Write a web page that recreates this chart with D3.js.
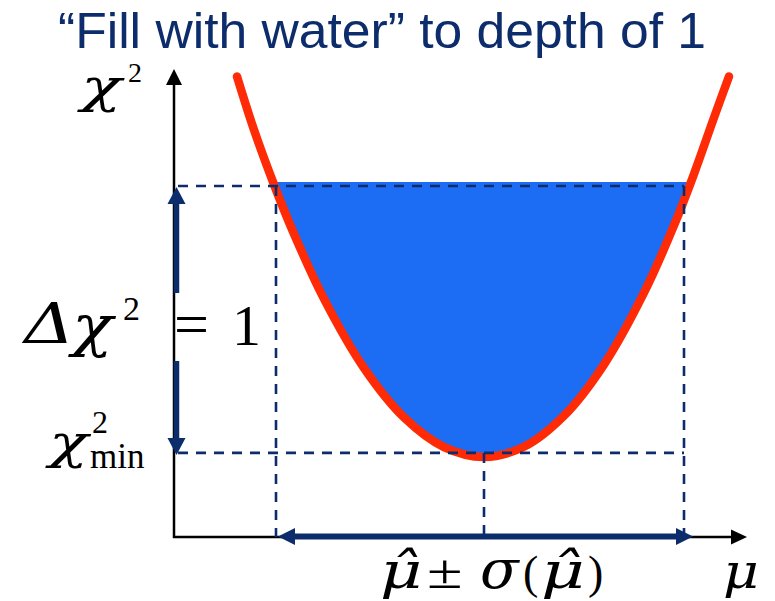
<!DOCTYPE html>
<html>
<head>
<meta charset="utf-8">
<script src="https://cdn.jsdelivr.net/npm/d3@7"></script>
<style>
  html, body { margin: 0; padding: 0; background: #ffffff; }
  svg { display: block; }
</style>
</head>
<body>
<svg id="chart" width="775" height="601"></svg>
<script>
// χ² scan around the best fit: μ in units of σ(μ̂) measured from μ̂,
// χ² measured from χ²min
const muValues   = [-1.235, -1.15, -1.05, -0.95, -0.8, -0.6, -0.4, -0.2, 0, 0.2, 0.4, 0.6, 0.8, 0.95, 1.05, 1.15, 1.225];
const chi2Values = [1.41, 1.21, 1.005, 0.82, 0.577, 0.318, 0.133, 0.022, -0.015, 0.023, 0.139, 0.331, 0.60, 0.852, 1.045, 1.256, 1.41];

// interval markers: μ̂ − σ, μ̂, μ̂ + σ
const muMarks   = [-1.04, 0, 1.0];
const deltaChi2 = 1;        // depth of the "water"
const waterLevel = 1.015;   // surface of the filled region
const muAxis   = [-1.55, 1.315];
const chi2Axis = [-0.315, 1.438];

const title = "\u201CFill with water\u201D to depth of 1";

const NAVY = "#0c2c6c";
const RED  = "#ff2b06";
const BLUE = "#1c6cf4";
const SERIF = "'Liberation Serif', 'Times New Roman', serif";
const GREEK = "'DejaVu Serif', serif";

const curve = muValues.map((m, i) => ({ mu: m, chi2: chi2Values[i] }));

const svg = d3.select("#chart");

const x = d3.scaleLinear().domain(muAxis).range([174, 747]);
const y = d3.scaleLinear().domain(chi2Axis).range([537, 69]);

const defs = svg.append("defs");
defs.append("clipPath").attr("id", "water-clip")
  .append("rect")
  .attr("x", 0).attr("y", y(waterLevel))
  .attr("width", 775).attr("height", y(chi2Axis[0]) - y(waterLevel));

// filled region below the Δχ² = 1 level
const area = d3.area()
  .x(d => x(d.mu))
  .y0(y(waterLevel))
  .y1(d => y(d.chi2))
  .curve(d3.curveCatmullRom.alpha(0.5));

svg.append("path")
  .datum(curve)
  .attr("d", area)
  .attr("fill", BLUE)
  .attr("clip-path", "url(#water-clip)");

// χ² curve
const line = d3.line()
  .x(d => x(d.mu))
  .y(d => y(d.chi2))
  .curve(d3.curveCatmullRom.alpha(0.5));

svg.append("path")
  .datum(curve)
  .attr("d", line)
  .attr("fill", "none")
  .attr("stroke", RED)
  .attr("stroke-width", 8.5)
  .attr("stroke-linecap", "round");

// coordinate axes with arrow tips
const axisG = svg.append("g").attr("stroke", "#000").attr("fill", "#000");
const x0 = x(muAxis[0]), yb = y(chi2Axis[0]);
const yTip = y(chi2Axis[1]), xTip = x(muAxis[1]);
axisG.append("line")
  .attr("x1", x0).attr("y1", yb + 1)
  .attr("x2", x0).attr("y2", yTip + 14)
  .attr("stroke-width", 2.5);
axisG.append("path")
  .attr("stroke", "none")
  .attr("d", d3.line()([[x0 - 8, yTip + 16], [x0, yTip], [x0 + 8, yTip + 16]]) + "Z");
axisG.append("line")
  .attr("x1", x0 - 1).attr("y1", yb)
  .attr("x2", xTip - 14).attr("y2", yb)
  .attr("stroke-width", 2.5);
axisG.append("path")
  .attr("stroke", "none")
  .attr("d", d3.line()([[xTip - 16, yb - 7.5], [xTip, yb], [xTip - 16, yb + 7.5]]) + "Z");

// dashed guide lines
const dash = svg.append("g")
  .attr("stroke", NAVY)
  .attr("stroke-width", 2.6)
  .attr("stroke-dasharray", "10,8")
  .attr("fill", "none");

[deltaChi2, 0].forEach(level => {
  dash.append("line")
    .attr("x1", x0 + 4).attr("y1", y(level))
    .attr("x2", x(muMarks[2])).attr("y2", y(level));
});
muMarks.forEach((m, i) => {
  dash.append("line")
    .attr("x1", x(m)).attr("y1", y(i === 1 ? 0 : deltaChi2))
    .attr("x2", x(m)).attr("y2", yb);
});

// double arrows
const arrows = svg.append("g").attr("fill", NAVY).attr("stroke", NAVY);

// vertical: Δχ² between χ²min and χ²min + 1
const ax = x0 + 2.5;
const yTop = y(deltaChi2) + 1, yBot = y(0) + 2;
arrows.append("path").attr("stroke", "none")
  .attr("d", d3.line()([[ax - 9, yTop + 17], [ax, yTop], [ax + 9, yTop + 17]]) + "Z");
arrows.append("line").attr("x1", ax).attr("x2", ax)
  .attr("y1", yTop + 15).attr("y2", 293).attr("stroke-width", 5.5);
arrows.append("line").attr("x1", ax).attr("x2", ax)
  .attr("y1", 361).attr("y2", yBot - 15).attr("stroke-width", 5.5);
arrows.append("path").attr("stroke", "none")
  .attr("d", d3.line()([[ax - 9, yBot - 17], [ax, yBot], [ax + 9, yBot - 17]]) + "Z");

// horizontal: μ̂ ± σ(μ̂)
const ay = yb - 0.5;
const xl = x(muMarks[0]) + 2, xr = x(muMarks[2]) + 9;
arrows.append("line").attr("x1", xl + 14).attr("x2", xr - 14)
  .attr("y1", ay).attr("y2", ay).attr("stroke-width", 6);
arrows.append("path").attr("stroke", "none")
  .attr("d", d3.line()([[xl + 17, ay - 8.5], [xl, ay], [xl + 17, ay + 8.5]]) + "Z");
arrows.append("path").attr("stroke", "none")
  .attr("d", d3.line()([[xr - 17, ay - 8.5], [xr, ay], [xr - 17, ay + 8.5]]) + "Z");

// title
svg.append("text")
  .attr("x", 382).attr("y", 48)
  .attr("text-anchor", "middle")
  .attr("font-family", "'Liberation Sans', Arial, sans-serif")
  .attr("font-size", 50)
  .attr("textLength", 648)
  .attr("lengthAdjust", "spacingAndGlyphs")
  .attr("fill", NAVY)
  .text(title);

// math labels: Greek letters italic in DejaVu Serif, digits and words in
// Liberation Serif; sx widens a glyph horizontally
function math(txt, px, py, size, greek, sx = 1) {
  return svg.append("text")
    .attr("transform", `translate(${px},${py}) scale(${sx},1)`)
    .attr("font-family", greek ? GREEK : SERIF)
    .attr("font-size", size)
    .attr("font-style", greek ? "italic" : "normal")
    .attr("fill", "#000")
    .text(txt);
}

// y-axis label χ²
math("\u03C7", 81, 102, 46, true, 1.45);
math("2", 128, 82, 28);

// Δχ² = 1
math("\u0394", 24, 343, 56, true, 1.25);
math("\u03C7", 72, 345, 56, true, 1.2);
math("2", 123, 320, 34);
math("=", 174, 345, 62);
math("1", 232, 345, 58);

// χ²min
math("\u03C7", 49, 458, 46, true, 1.4);
math("2", 92, 433, 32);
math("min", 90, 468, 35);

// μ̂ ± σ(μ̂)
math("\u03BC\u0302", 380, 588, 50, true, 1.3);
math("\u00B1", 427, 588, 48, false, 1.35);
math("\u03C3", 480, 588, 54, true, 1.05);
math("(", 523, 588, 46);
math("\u03BC\u0302", 541, 588, 50, true, 1.35);
math(")", 588, 588, 46);

// μ axis label
math("\u03BC", 723, 588, 48, true, 1.15);
</script>
</body>
</html>
